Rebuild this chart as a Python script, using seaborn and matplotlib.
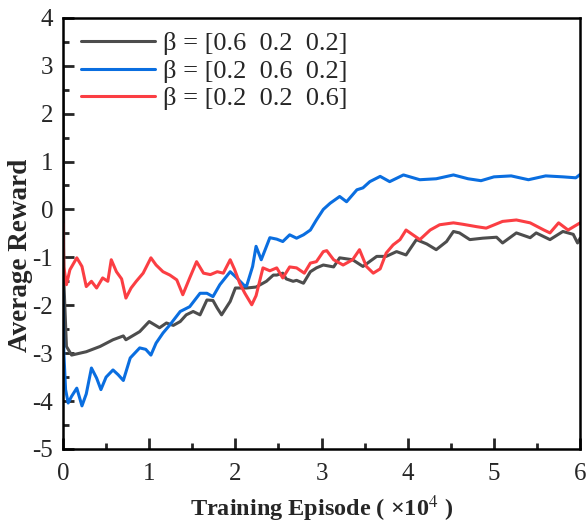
import numpy as np
import pandas as pd
import seaborn as sns
import matplotlib.pyplot as plt
from matplotlib.ticker import MultipleLocator

# episodes are in units of 1e4
x_gray = [0.0, 0.01, 0.04, 0.1, 0.27, 0.43, 0.58, 0.7, 0.73, 0.89, 1.0, 1.12, 1.2, 1.28,
          1.36, 1.43, 1.51, 1.59, 1.67, 1.74, 1.79, 1.84, 1.94, 2.0, 2.13, 2.24, 2.36,
          2.44, 2.48, 2.55, 2.59, 2.67, 2.71, 2.79, 2.87, 2.94, 3.02, 3.14, 3.21, 3.36,
          3.48, 3.64, 3.75, 3.87, 3.98, 4.1, 4.22, 4.33, 4.45, 4.53, 4.6, 4.72, 4.87,
          5.03, 5.1, 5.26, 5.42, 5.49, 5.65, 5.8, 5.92, 5.97, 6.0]
y_gray = [3.0, -1.5, -2.86, -3.04, -2.97, -2.86, -2.72, -2.64, -2.72, -2.55, -2.34, -2.47,
          -2.37, -2.42, -2.34, -2.2, -2.13, -2.2, -1.89, -1.9, -2.06, -2.2, -1.92, -1.64,
          -1.64, -1.62, -1.5, -1.37, -1.37, -1.33, -1.45, -1.5, -1.48, -1.54, -1.3, -1.22,
          -1.16, -1.2, -1.01, -1.05, -1.19, -0.98, -0.98, -0.88, -0.95, -0.63, -0.72,
          -0.84, -0.67, -0.46, -0.49, -0.63, -0.6, -0.58, -0.7, -0.49, -0.59, -0.49,
          -0.63, -0.46, -0.52, -0.7, -0.6]

x_blue = [0.0, 0.01, 0.03, 0.06, 0.1, 0.16, 0.22, 0.27, 0.33, 0.39, 0.44, 0.5, 0.58, 0.64,
          0.7, 0.78, 0.89, 0.96, 1.02, 1.08, 1.16, 1.24, 1.36, 1.47, 1.59, 1.67, 1.74,
          1.82, 1.94, 2.0, 2.11, 2.13, 2.2, 2.24, 2.3, 2.4, 2.48, 2.55, 2.63, 2.71, 2.79,
          2.87, 2.94, 3.02, 3.1, 3.21, 3.29, 3.41, 3.48, 3.56, 3.68, 3.79, 3.95, 4.14,
          4.33, 4.53, 4.7, 4.85, 5.0, 5.2, 5.4, 5.6, 5.8, 5.95, 6.0]
y_blue = [-1.7, -3.0, -3.76, -4.04, -3.9, -3.73, -4.1, -3.85, -3.31, -3.52, -3.76, -3.5,
          -3.35, -3.45, -3.57, -3.1, -2.89, -2.92, -3.04, -2.79, -2.58, -2.41, -2.13,
          -2.03, -1.75, -1.75, -1.82, -1.57, -1.3, -1.4, -1.6, -1.6, -1.19, -0.77, -1.05,
          -0.59, -0.62, -0.67, -0.53, -0.6, -0.53, -0.43, -0.22, 0.0, 0.13, 0.27, 0.16,
          0.41, 0.45, 0.58, 0.69, 0.58, 0.72, 0.62, 0.64, 0.72, 0.64, 0.6, 0.68, 0.7,
          0.62, 0.7, 0.68, 0.66, 0.73]

x_red = [0.0, 0.01, 0.04, 0.08, 0.16, 0.22, 0.27, 0.33, 0.39, 0.46, 0.52, 0.56, 0.62,
         0.68, 0.73, 0.79, 0.85, 0.93, 1.02, 1.08, 1.16, 1.24, 1.32, 1.39, 1.47, 1.55,
         1.63, 1.71, 1.79, 1.86, 1.94, 1.99, 2.05, 2.11, 2.19, 2.24, 2.32, 2.4, 2.48,
         2.55, 2.63, 2.71, 2.8, 2.87, 2.94, 3.02, 3.06, 3.14, 3.25, 3.36, 3.44, 3.52,
         3.6, 3.68, 3.75, 3.83, 3.91, 3.98, 4.06, 4.14, 4.26, 4.37, 4.53, 4.64, 4.8,
         4.91, 5.1, 5.26, 5.42, 5.58, 5.65, 5.75, 5.86, 6.0]
y_red = [-0.3, -1.2, -1.57, -1.26, -1.01, -1.19, -1.61, -1.5, -1.64, -1.43, -1.5, -1.05,
         -1.3, -1.45, -1.85, -1.64, -1.5, -1.33, -1.01, -1.16, -1.3, -1.37, -1.47, -1.78,
         -1.43, -1.09, -1.33, -1.36, -1.3, -1.33, -1.05, -1.25, -1.54, -1.75, -1.99,
         -1.8, -1.22, -1.28, -1.22, -1.43, -1.2, -1.22, -1.33, -1.12, -1.09, -0.88,
         -0.86, -1.05, -1.16, -1.05, -0.84, -1.19, -1.33, -1.24, -0.91, -0.74, -0.63,
         -0.43, -0.53, -0.63, -0.43, -0.32, -0.28, -0.31, -0.36, -0.39, -0.25, -0.22,
         -0.28, -0.43, -0.49, -0.28, -0.43, -0.28]

labels = ['β = [0.6  0.2  0.2]', 'β = [0.2  0.6  0.2]', 'β = [0.2  0.2  0.6]']
colors = ['#4d4d4d', '#0a6ee0', '#fb3e43']

df = pd.concat([
    pd.DataFrame({'episode': x_gray, 'reward': y_gray, 'beta': labels[0]}),
    pd.DataFrame({'episode': x_blue, 'reward': y_blue, 'beta': labels[1]}),
    pd.DataFrame({'episode': x_red, 'reward': y_red, 'beta': labels[2]}),
])

sns.set_style('ticks')
plt.rcParams['font.family'] = ['Liberation Serif', 'DejaVu Serif']
plt.rcParams['mathtext.fontset'] = 'stix'
plt.rcParams['axes.unicode_minus'] = False

fig = plt.figure(figsize=(5.86, 5.23), dpi=100)
ax = fig.add_axes([0.1075, 0.1415, 0.8825, 0.8245])

sns.lineplot(data=df, x='episode', y='reward', hue='beta', palette=colors,
             linewidth=2.2, sort=False, estimator=None, ax=ax)

ax.set_xlim(0, 6)
ax.set_ylim(-5, 4)
ax.xaxis.set_major_locator(MultipleLocator(1))
ax.xaxis.set_minor_locator(MultipleLocator(0.5))
ax.yaxis.set_major_locator(MultipleLocator(1))
ax.yaxis.set_minor_locator(MultipleLocator(0.5))
ax.tick_params(which='major', direction='in', length=8, width=2, labelsize=18, pad=7)
ax.tick_params(axis='x', which='major', pad=10)
ax.tick_params(which='minor', direction='in', length=4, width=2)
for s in ax.spines.values():
    s.set_linewidth(1.8)
    s.set_color('black')

ax.set_xlabel('Training Episode ( ×10$^{4}$ )', fontsize=17.5, fontweight='bold', labelpad=6)
ax.set_ylabel('Average Reward', fontsize=19.5, fontweight='bold')
ax.yaxis.set_label_coords(-0.058, 0.45)

ax.legend(loc='upper left', frameon=False, fontsize=19, handlelength=2.8,
          handletextpad=0.3, labelspacing=0.15, borderaxespad=0.3,
          bbox_to_anchor=(0.0, 1.01))

plt.savefig('out.png', dpi=100)
